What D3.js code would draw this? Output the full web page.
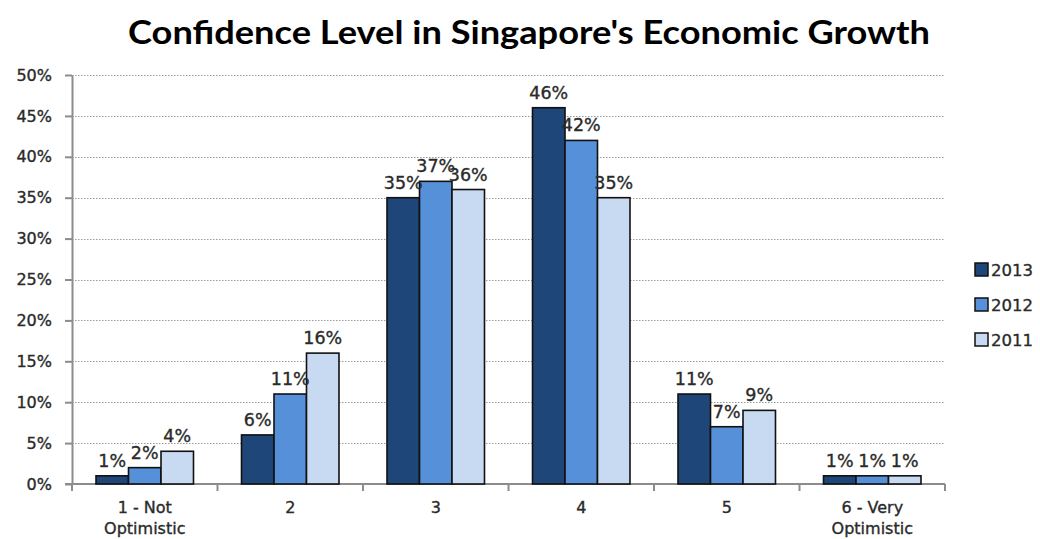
<!DOCTYPE html>
<html><head><meta charset="utf-8">
<script src="https://cdn.jsdelivr.net/npm/d3@7"></script>
<style>body{margin:0;background:#fff}svg{display:block}</style>
</head><body>
<svg id="c" width="1040" height="539"></svg>
<script>
const categories = [["1 - Not","Optimistic"],["2"],["3"],["4"],["5"],["6 - Very","Optimistic"]];
const seriesNames = ["2013","2012","2011"];
const s2013 = [1,6,35,46,11,1];
const s2012 = [2,11,37,42,7,1];
const s2011 = [4,16,36,35,9,1];
const yTicks = [0,5,10,15,20,25,30,35,40,45,50];
const colors = ["#1f4679","#5590d8","#c8daf2"];
const title = "Confidence Level in Singapore's Economic Growth";

const series = [s2013,s2012,s2011];
const svg = d3.select("#c");
const L = 72, R = 945, T = 75, B = 484;
const FONT = "'DejaVu Sans', Verdana, sans-serif";
const TXT = "#2a2a2a";
const x = d3.scaleBand().domain(d3.range(categories.length)).range([L,R]).paddingInner(0.33).paddingOuter(0.165);
const xs = d3.scaleBand().domain(d3.range(3)).range([0,x.bandwidth()]);
const y = d3.scaleLinear().domain([0,50]).range([B,T]);

function heavy(sel){ return sel.attr("stroke",TXT).attr("stroke-width",0.35).attr("fill",TXT); }

svg.append("text").attr("x",529).attr("y",44).attr("text-anchor","middle")
  .attr("font-family","'Liberation Sans Narrow', Lato, 'Open Sans', sans-serif").attr("font-weight","bold").attr("font-size",33)
  .attr("textLength",802).attr("lengthAdjust","spacingAndGlyphs").attr("fill","#000").text(title);

// gridlines
svg.append("g").selectAll("line").data(yTicks.filter(d=>d>0)).join("line")
  .attr("x1",L).attr("x2",R).attr("y1",d=>Math.round(y(d))+0.5).attr("y2",d=>Math.round(y(d))+0.5)
  .attr("stroke","#9a9a9a").attr("stroke-dasharray","1.5,1.5").attr("stroke-width",1);

// y axis
const ya = svg.append("g").attr("transform",`translate(${L},0)`)
  .call(d3.axisLeft(y).tickValues(yTicks).tickFormat(d=>d+"%").tickSize(7).tickSizeOuter(0));
ya.select(".domain").attr("stroke","#8c8c8c").attr("stroke-width",2);
ya.selectAll(".tick line").attr("stroke","#8c8c8c").attr("stroke-width",2);
heavy(ya.selectAll(".tick text").attr("font-family",FONT).attr("font-size",16).attr("x",-20));

// x axis
const xg = svg.append("g").attr("transform",`translate(0,${B})`);
xg.append("line").attr("x1",L-7).attr("x2",R).attr("y1",0).attr("y2",0).attr("stroke","#8c8c8c").attr("stroke-width",2);
const step = x.step();
xg.selectAll(".xt").data(d3.range(categories.length+1)).join("line")
  .attr("x1",i=>L+i*step).attr("x2",i=>L+i*step).attr("y1",0).attr("y2",7).attr("stroke","#8c8c8c").attr("stroke-width",2);
const xl = heavy(xg.selectAll(".xl").data(categories).join("text")
  .attr("text-anchor","middle").attr("font-family",FONT).attr("font-size",16)
  .attr("transform",(d,i)=>`translate(${x(i)+x.bandwidth()/2},0)`));
xl.selectAll("tspan").data(d=>d).join("tspan").attr("x",0).attr("y",(d,j)=>29+j*21).text(d=>d);

// bars
const groups = svg.append("g").selectAll("g").data(categories).join("g").attr("transform",(d,i)=>`translate(${x(i)},0)`);
groups.each(function(d,i){
  const g = d3.select(this);
  series.forEach((s,k)=>{
    g.append("rect").attr("x",xs(k)).attr("width",xs.bandwidth()).attr("y",y(s[i])).attr("height",B-y(s[i]))
      .attr("fill",colors[k]).attr("stroke","#111").attr("stroke-width",1.6);
  });
  series.forEach((s,k)=>{
    heavy(g.append("text").attr("x",xs(k)+xs.bandwidth()/2).attr("y",y(s[i])-9).attr("text-anchor","middle")
      .attr("font-family",FONT).attr("font-size",17.5)).text(s[i]+"%");
  });
});

// legend
const lg = svg.append("g").selectAll("g").data(seriesNames).join("g").attr("transform",(d,i)=>`translate(975,${263+i*35})`);
lg.append("rect").attr("width",13).attr("height",13).attr("fill",(d,i)=>colors[i]).attr("stroke","#111").attr("stroke-width",1.5);
heavy(lg.append("text").attr("x",16).attr("y",13).attr("font-family",FONT).attr("font-size",16.5)).text(d=>d);
</script>
</body></html>
